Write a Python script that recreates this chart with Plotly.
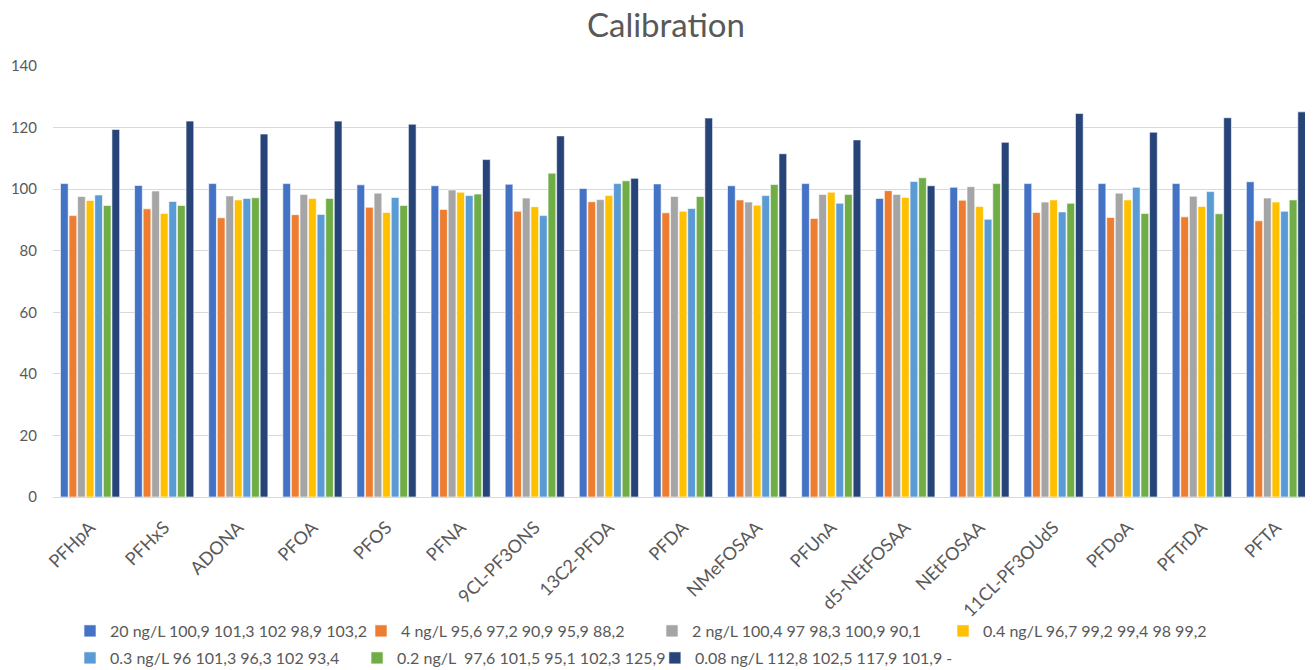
import plotly.graph_objects as go

categories = ["PFHpA", "PFHxS", "ADONA", "PFOA", "PFOS", "PFNA", "9CL-PF3ONS", "13C2-PFDA",
              "PFDA", "NMeFOSAA", "PFUnA", "d5-NEtFOSAA", "NEtFOSAA", "11CL-PF3OUdS",
              "PFDoA", "PFTrDA", "PFTA"]

series_names = [
    "20 ng/L 100,9 101,3 102 98,9 103,2",
    "4 ng/L 95,6 97,2 90,9 95,9 88,2",
    "2 ng/L 100,4 97 98,3 100,9 90,1",
    "0.4 ng/L 96,7 99,2 99,4 98 99,2",
    "0.3 ng/L 96 101,3 96,3 102 93,4",
    "0.2 ng/L  97,6 101,5 95,1 102,3 125,9",
    "0.08 ng/L 112,8 102,5 117,9 101,9 -",
]

s20 = [101.8, 101.2, 101.8, 101.8, 101.4, 101.1, 101.6, 100.2, 101.7, 101.1, 101.8, 97.0, 100.6, 101.8, 101.8, 101.8, 102.4]
s4 = [91.4, 93.6, 90.7, 91.7, 94.1, 93.4, 92.8, 95.9, 92.3, 96.5, 90.5, 99.5, 96.4, 92.4, 90.8, 91.0, 89.7]
s2 = [97.6, 99.4, 97.8, 98.3, 98.7, 99.7, 97.1, 96.6, 97.6, 95.8, 98.3, 98.3, 100.8, 95.8, 98.7, 97.7, 97.1]
s04 = [96.3, 92.1, 96.5, 97.0, 92.4, 99.0, 94.3, 97.9, 92.8, 94.8, 99.0, 97.3, 94.4, 96.5, 96.5, 94.4, 95.8]
s03 = [98.1, 96.0, 97.0, 91.8, 97.3, 97.9, 91.4, 101.8, 93.7, 97.9, 95.4, 102.5, 90.2, 92.6, 100.6, 99.2, 92.8]
s02 = [94.7, 94.7, 97.2, 97.0, 94.7, 98.4, 105.2, 102.7, 97.6, 101.5, 98.3, 103.7, 101.8, 95.4, 92.1, 92.0, 96.5]
s008 = [119.4, 122.1, 117.9, 122.1, 121.1, 109.6, 117.3, 103.5, 123.1, 111.5, 116.0, 101.1, 115.2, 124.6, 118.5, 123.2, 125.1]

series_values = [s20, s4, s2, s04, s03, s02, s008]
colors = ["#4472C4", "#ED7D31", "#A5A5A5", "#FFC000", "#5B9BD5", "#70AD47", "#264478"]
legend_ids = ["legend", "legend", "legend", "legend", "legend2", "legend4", "legend3"]

y_ticks = [0, 20, 40, 60, 80, 100, 120, 140]

FONT = "Lato"
GRAY = "#595959"
FIG_W, FIG_H = 1305, 662

fig = go.Figure()
for name, vals, col, lg in zip(series_names, series_values, colors, legend_ids):
    fig.add_trace(go.Bar(x=categories, y=vals, name=name, legend=lg,
                         marker=dict(color=col, line=dict(width=0.6, color="white"))))

legend_common = dict(orientation="h", xanchor="left", yanchor="middle",
                     yref="container",
                     font=dict(family=FONT, size=16, color=GRAY),
                     entrywidthmode="pixels", itemwidth=30,
                     bgcolor="rgba(0,0,0,0)")

fig.update_layout(
    width=FIG_W, height=FIG_H,
    paper_bgcolor="white", plot_bgcolor="white",
    font=dict(family=FONT, color=GRAY),
    title=dict(text="Calibration", x=0.5042, xanchor="center", y=1 - 17 / FIG_H,
               yanchor="middle", font=dict(family=FONT, size=33, color=GRAY)),
    margin=dict(l=45, r=0, t=58, b=173),
    barmode="group", bargap=0.19, bargroupgap=0.1,
    xaxis=dict(tickangle=-45, tickfont=dict(size=18, color=GRAY), showgrid=False,
               showline=True, linecolor="#D9D9D9", linewidth=1, ticks="",
               automargin=False, ticklabelstandoff=12),
    yaxis=dict(range=[0, 140], tickvals=y_ticks, tickfont=dict(size=15, color=GRAY),
               showgrid=True, gridcolor="#D9D9D9", gridwidth=1, zeroline=False,
               ticks="", ticklabelstandoff=15, automargin=False),
    legend=dict(x=0.0135, y=1 - 623 / FIG_H, entrywidth=246, **legend_common),
    legend2=dict(x=0.0135, y=1 - 650 / FIG_H, entrywidth=246, **legend_common),
    legend4=dict(x=0.2413, y=1 - 650 / FIG_H, entrywidth=300, **legend_common),
    legend3=dict(x=0.4777, y=1 - 650 / FIG_H, entrywidth=300, **legend_common),
    showlegend=True,
)

fig.write_html("out.html")
